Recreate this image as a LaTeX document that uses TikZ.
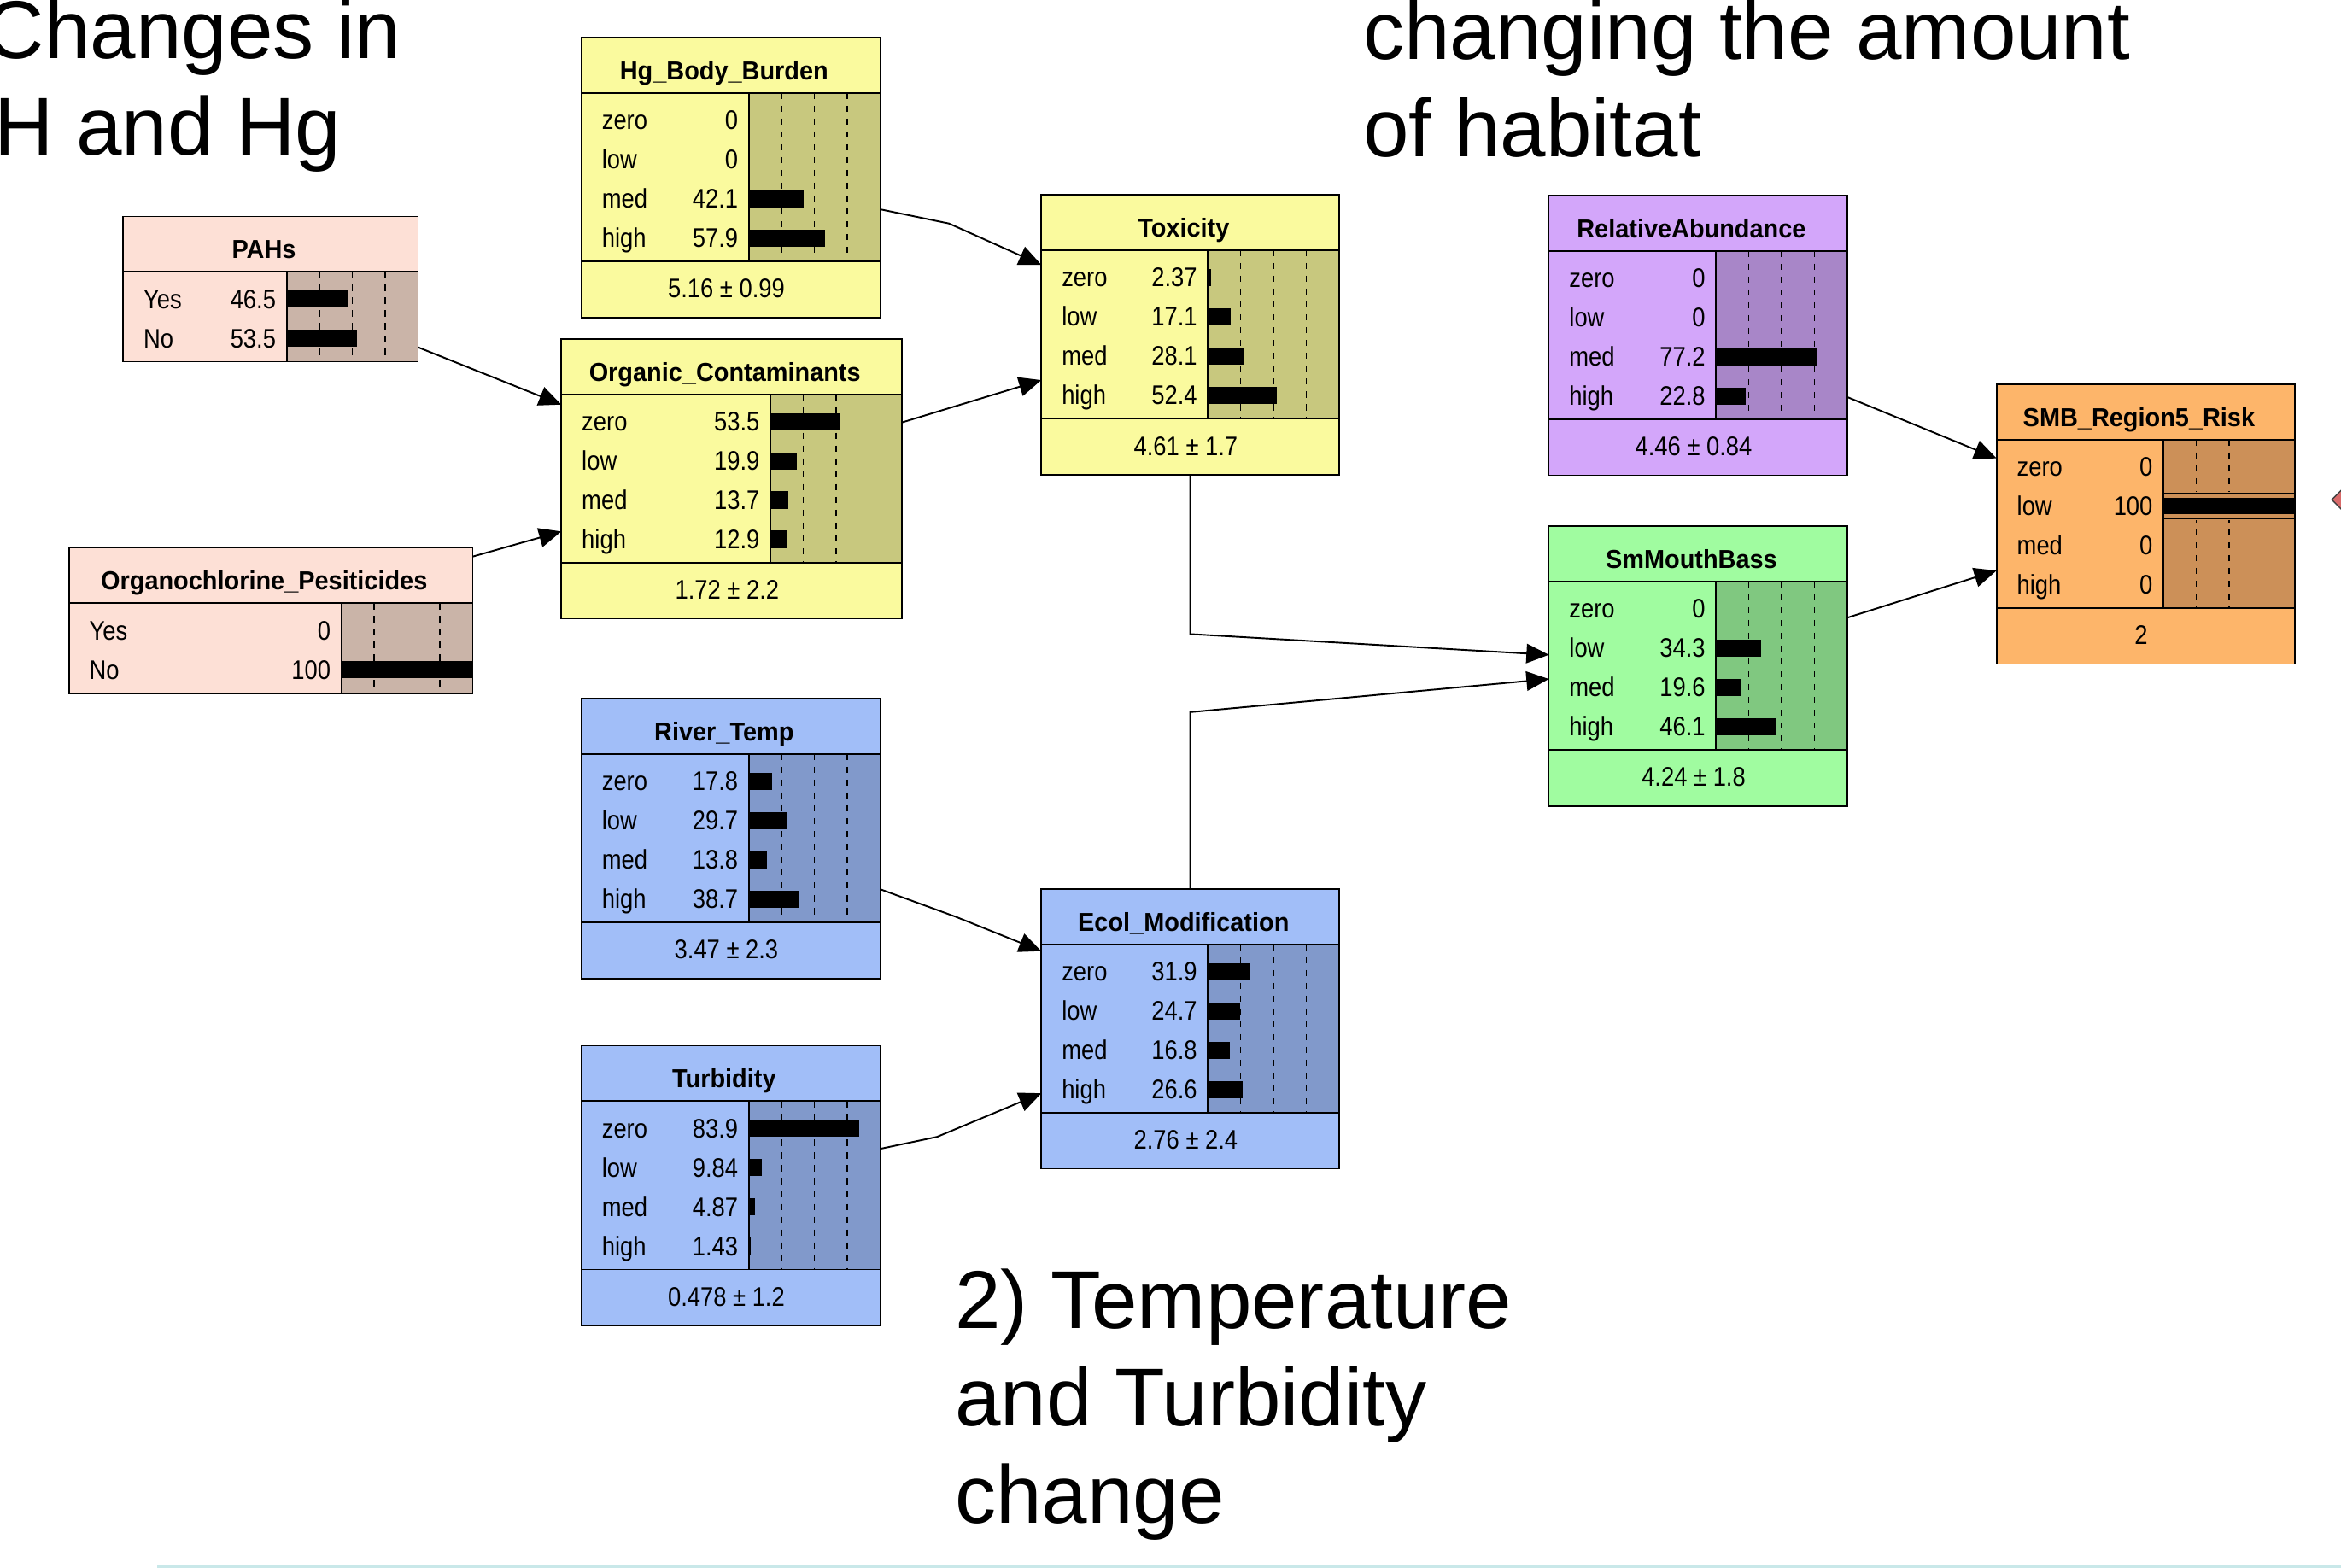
\documentclass[tikz,border=0pt]{standalone}
\usepackage{fontspec}
\setmainfont{Liberation Sans}
\newfontfamily\bodyfont{Liberation Sans}[FakeStretch=0.87]
\newfontfamily\ttlfont{Liberation Sans}[FakeStretch=0.95]
\usetikzlibrary{arrows.meta}
\definecolor{yel}{RGB}{250,250,158}
\definecolor{yelbar}{RGB}{200,200,126}
\definecolor{pnk}{RGB}{253,224,214}
\definecolor{pnkbar}{RGB}{202,180,168}
\definecolor{blu}{RGB}{161,190,248}
\definecolor{blubar}{RGB}{129,153,203}
\definecolor{pur}{RGB}{211,166,250}
\definecolor{purbar}{RGB}{168,134,200}
\definecolor{grn}{RGB}{160,252,160}
\definecolor{grnbar}{RGB}{128,200,128}
\definecolor{orn}{RGB}{253,181,106}
\definecolor{ornbar}{RGB}{204,144,88}
\definecolor{redarr}{RGB}{217,106,106}
\definecolor{cyanline}{RGB}{201,232,233}
\tikzset{
  bnframe/.style={draw=black, line width=1pt, rectangle, inner sep=0pt, outer sep=0pt},
  sep/.style={line width=1pt},
  dashline/.style={line width=0.8pt, dash pattern=on 4.2pt off 4.4pt},
  ttl/.style={font=\ttlfont\bfseries\fontsize{17.4}{17.4}\selectfont, inner sep=0pt, anchor=base},
  cell/.style={font=\bodyfont\fontsize{18}{18}\selectfont, inner sep=0pt},
  foot/.style={font=\bodyfont\fontsize{18}{18}\selectfont, inner sep=0pt, anchor=base},
  arr/.style={line width=1.1pt, -{Triangle[length=15pt,width=13pt]}},
  big/.style={font=\fontsize{55}{65}\selectfont, inner sep=0pt, anchor=base west},
}
% #1 name, #2 left, #3 top, #4 width, #5 title, #6 colour, #7 nrows, #8 rows, #9 footer
\newcommand\bnbox[9]{%
  \pgfmathsetmacro\bnL{#2}%
  \pgfmathsetmacro\bnT{#3}%
  \pgfmathsetmacro\bnR{#2+#4}%
  \pgfmathsetmacro\bnB{#3+37}%
  \pgfmathsetmacro\bnE{\bnB+34+(#7-1)*26.3}%
  \pgfmathsetmacro\bnX{\bnR-88}%
  \def\bnfoot{#9}%
  \ifx\bnfoot\empty\let\bnF\bnE\else\pgfmathsetmacro\bnF{\bnE+37.5}\fi
  \pgfmathsetmacro\bnH{\bnF-\bnT}%
  \node[bnframe, fill=#6, minimum width=#4pt, minimum height=\bnH pt, anchor=north west] (#1) at (\bnL,\bnT) {};
  \fill[#6bar] (\bnX,\bnB) rectangle (\bnR,\bnE);
  \foreach \bnf in {0.25,0.5,0.75} {\draw[dashline] (\bnX+88*\bnf,\bnB) -- (\bnX+88*\bnf,\bnE);}
  \draw[sep] (\bnL,\bnB) -- (\bnR,\bnB);
  \draw[sep] (\bnX,\bnB) -- (\bnX,\bnE);
  \ifx\bnfoot\empty\else
    \draw[sep] (\bnL,\bnE) -- (\bnR,\bnE);
    \node[foot] (#1-f) at ({(\bnL+\bnR)/2-3},\bnE+24.5) {#9};
  \fi
  \node[ttl] (#1-t) at ({(\bnL+\bnR)/2-4.5},\bnT+28.2) {#5};
  \foreach \lab/\val [count=\i from 0] in {#8} {%
    \pgfmathsetmacro\bnY{\bnB+24.6+\i*26.3}
    \node[cell, anchor=base west] (#1-l\i) at (\bnL+13.5,\bnY) {\lab};
    \node[cell, anchor=base east] (#1-v\i) at (\bnX-7,\bnY) {\val};
    \fill (\bnX,\bnY-12) rectangle (\bnX+0.88*\val,\bnY-0.5);
  }
  \draw[line width=1pt] (#1.north west) rectangle (#1.south east);
}
\begin{document}
\begin{tikzpicture}[x=1pt,y=-1pt]
\useasboundingbox (0,0) rectangle (1568,1050);
\fill[white] (0,0) rectangle (1568,1050);

% headings
\node[big] (c1) at (-10,39) {Changes in};
\node[big] (c2) at (-4,104) {H and Hg};
\node[big] (h1) at (913,39.5) {changing the amount};
\node[big] (h2) at (913,105) {of habitat};
\node[big] (t1) at (639.5,890) {2) Temperature};
\node[big] (t2) at (639.5,955) {and Turbidity};
\node[big] (t3) at (639.5,1020) {change};

% boxes
\bnbox{hg}{389.5}{25.2}{200}{Hg\_Body\_Burden}{yel}{4}{zero/0,low/0,med/42.1,high/57.9}{5.16 ± 0.99}
\bnbox{pahs}{82.5}{145}{197.5}{PAHs}{pnk}{2}{Yes/46.5,No/53.5}{}
\bnbox{org}{376}{227}{228}{Organic\_Contaminants}{yel}{4}{zero/53.5,low/19.9,med/13.7,high/12.9}{1.72 ± 2.2}
\bnbox{ocp}{46.2}{367}{270.4}{Organochlorine\_Pesiticides}{pnk}{2}{Yes/0,No/100}{}
\bnbox{tox}{697.5}{130.5}{199.5}{Toxicity}{yel}{4}{zero/2.37,low/17.1,med/28.1,high/52.4}{4.61 ± 1.7}
\bnbox{river}{389.5}{468}{200}{River\_Temp}{blu}{4}{zero/17.8,low/29.7,med/13.8,high/38.7}{3.47 ± 2.3}
\bnbox{turb}{389.5}{700.5}{200}{Turbidity}{blu}{4}{zero/83.9,low/9.84,med/4.87,high/1.43}{0.478 ± 1.2}
\bnbox{ecol}{697.5}{595.5}{199.5}{Ecol\_Modification}{blu}{4}{zero/31.9,low/24.7,med/16.8,high/26.6}{2.76 ± 2.4}
\bnbox{rel}{1037.4}{131}{200}{RelativeAbundance}{pur}{4}{zero/0,low/0,med/77.2,high/22.8}{4.46 ± 0.84}
\bnbox{smb}{1037.4}{352.4}{200}{SmMouthBass}{grn}{4}{zero/0,low/34.3,med/19.6,high/46.1}{4.24 ± 1.8}
\bnbox{risk}{1337.3}{257.4}{199.7}{SMB\_Region5\_Risk}{orn}{4}{zero/0,low/100,med/0,high/0}{2}

% finding marker on SMB_Region5_Risk "low"
\fill[ornbar] (1449.8,329.4) rectangle (1536.5,348.4);
\draw[line width=0.9pt] (1449,330.5) -- (1537,330.5);
\draw[line width=0.9pt] (1449,347.3) -- (1537,347.3);
\fill (1449,333.6) rectangle (1537,344.6);
\draw[line width=1pt] (risk.north west) rectangle (risk.south east);

% connectors
\draw[arr] ([yshift=-115pt]hg.north east) -- (635.6,149.7) -- ([yshift=-46.9pt]tox.north west);
\draw[arr] ([yshift=-56pt]org.north east) -- ([yshift=-124.1pt]tox.north west);
\draw[arr] ([yshift=-87.6pt]pahs.north east) -- ([yshift=-44pt]org.north west);
\draw[arr] ([yshift=-5.8pt]ocp.north east) -- ([yshift=-129pt]org.north west);
\draw[arr] ([yshift=-127.6pt]river.north east) -- (640,614) -- ([yshift=-41.6pt]ecol.north west);
\draw[arr] ([yshift=-69pt]turb.north east) -- (627.6,761.5) -- ([yshift=-136.8pt]ecol.north west);
\draw[arr] (tox.south) -- ([yshift=-106.8pt]tox.south) -- ([yshift=-86.2pt]smb.north west);
\draw[arr] (ecol.north) -- ([yshift=118.5pt]ecol.north) -- ([yshift=-102.4pt]smb.north west);
\draw[arr] ([yshift=-135pt]rel.north east) -- ([yshift=-49.6pt]risk.north west);
\draw[arr] ([yshift=-61.3pt]smb.north east) -- ([yshift=-124.8pt]risk.north west);

% partial red pointer at the right edge
\filldraw[fill=redarr, draw=black!75, line width=0.8pt] (1561.8,334.7) -- (1576,320.5) -- (1576,348.9) -- cycle;

% bottom rule
\fill[cyanline] (105,1047.8) rectangle (1568,1050);
\end{tikzpicture}
\end{document}
